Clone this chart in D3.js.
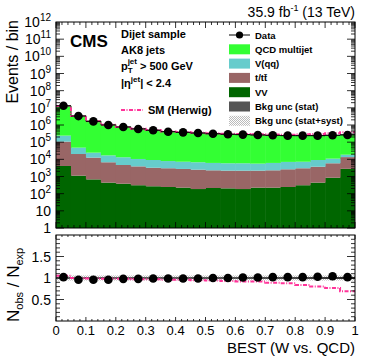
<!DOCTYPE html>
<html>
<head>
<meta charset="utf-8">
<script src="https://cdn.jsdelivr.net/npm/d3@7"></script>
<style>
  body { margin: 0; background: #fff; }
  svg text { font-family: "Liberation Sans", Arial, sans-serif; }
</style>
</head>
<body>
<div id="plot"></div>
<script>
// ---------------------------------------------------------------
// données (20 bins de 0.05)
// ---------------------------------------------------------------
var binEdges = [0,0.05,0.1,0.15,0.2,0.25,0.3,0.35,0.4,0.45,0.5,0.55,0.6,0.65,0.7,0.75,0.8,0.85,0.9,0.95,1.0];
var vv   = [4100,1120,680,440,380,310,270,245,225,186,214,204,186,224,224,245,310,440,850,2800];
var ttop = [103000,19300,11900,6300,4300,3580,2970,2780,2530,2320,2080,1990,2000,1970,2070,2390,2710,3280,5040,10700];
var vqq  = [133000,27500,11900,10200,8500,6600,5900,4900,4500,4250,3880,3700,3700,3430,3880,4450,4220,5400,5070,5100];
var qcd  = [12700000,3400000,1680000,1030000,770000,600000,495000,410000,370000,340000,305000,285000,270000,260000,245000,235000,233000,230000,240000,255000];
var data = [13200000,3310000,1620000,1000000,760000,590000,490000,407000,372000,339000,309000,288000,275000,263000,251000,240000,240000,240000,251000,263000];
var herwig = [12600000,3310000,1640000,1020000,776000,608000,505000,424000,388000,357000,329000,310000,299000,286000,282000,273000,286000,300000,326000,381000];
var ratioData   = [1.02,0.96,0.96,0.96,0.98,0.98,0.99,0.99,0.99,0.99,1.0,1.0,1.01,1.01,1.02,1.02,1.02,1.03,1.04,1.02];
var ratioHerwig = [1.05,1.0,0.99,0.98,0.98,0.97,0.97,0.96,0.96,0.95,0.94,0.93,0.92,0.92,0.89,0.88,0.84,0.80,0.77,0.69];
var uncStat = [0.004,0.004,0.005,0.005,0.005,0.006,0.006,0.006,0.007,0.007,0.008,0.008,0.009,0.01,0.011,0.012,0.014,0.017,0.02,0.025];
var uncTot  = [0.06,0.06,0.06,0.06,0.06,0.06,0.06,0.06,0.06,0.06,0.06,0.06,0.06,0.06,0.06,0.06,0.06,0.06,0.06,0.06];
var xTicks = [0,0.1,0.2,0.3,0.4,0.5,0.6,0.7,0.8,0.9,1];
var ratioTicks = [0.5,1,1.5];

var couleurs = {qcd:"#33ff33", vqq:"#66cccc", ttop:"#996666", vv:"#006600", herwig:"#ff3399"};

// ---------------------------------------------------------------
// svg & échelles
// ---------------------------------------------------------------
var largeurSvg = 374, hauteurSvg = 359;
var gauche = 56, droite = 355;
var hautTop = 22, basTop = 228, hautRatio = 235, basRatio = 321;

var svg = d3.select("#plot").append("svg")
    .attr("width", largeurSvg).attr("height", hauteurSvg);

var defs = svg.append("defs");
var pat = defs.append("pattern").attr("id","hachures")
    .attr("width",2).attr("height",2).attr("patternUnits","userSpaceOnUse");
pat.append("rect").attr("width",2).attr("height",2).attr("fill","#fff");
pat.append("rect").attr("width",1).attr("height",1).attr("fill","#bbb");
pat.append("rect").attr("x",1).attr("y",1).attr("width",1).attr("height",1).attr("fill","#bbb");
defs.append("clipPath").attr("id","clipTop").append("rect")
    .attr("x",gauche).attr("y",hautTop).attr("width",droite-gauche).attr("height",basTop-hautTop);
defs.append("clipPath").attr("id","clipRatio").append("rect")
    .attr("x",gauche).attr("y",hautRatio).attr("width",droite-gauche).attr("height",basRatio-hautRatio);

var x = d3.scaleLinear().domain([0,1]).range([gauche, droite]);
var y = d3.scaleLog().domain([1,1e12]).range([basTop, hautTop]);
var yr = d3.scaleLinear().domain([0,2]).range([basRatio, hautRatio]);

// piles cumulées
var bins = d3.range(20).map(function(i){
  return {i:i, x0:binEdges[i], x1:binEdges[i+1], vv:vv[i], ttop:ttop[i], vqq:vqq[i], qcd:qcd[i]};
});
var pile = d3.stack().keys(["vv","ttop","vqq","qcd"])(bins);

var gTop = svg.append("g").attr("clip-path","url(#clipTop)");
pile.forEach(function(serie){
  gTop.append("g").attr("fill", couleurs[serie.key])
    .selectAll("rect").data(serie).enter().append("rect")
      .attr("x", function(d){ return x(d.data.x0); })
      .attr("width", function(d){ return x(d.data.x1) - x(d.data.x0) + 0.5; })
      .attr("y", function(d){ return y(d[1]); })
      .attr("height", function(d){ return y(Math.max(d[0],1)) - y(d[1]); });
});

// bande incertitude (haut)
var total = pile[3];
gTop.selectAll("rect.unc").data(total).enter().append("rect")
    .attr("x", function(d){ return x(d.data.x0); })
    .attr("width", function(d){ return x(d.data.x1) - x(d.data.x0); })
    .attr("y", function(d,i){ return y(d[1]*(1+uncTot[i])); })
    .attr("height", function(d,i){ return y(d[1]*(1-uncTot[i])) - y(d[1]*(1+uncTot[i])); })
    .attr("fill","url(#hachures)").attr("opacity",0.6);

// ligne step helper
function ligneStep(vals, ech){
  var pts = [];
  vals.forEach(function(v,i){ pts.push([x(binEdges[i]), ech(v)]); pts.push([x(binEdges[i+1]), ech(v)]); });
  return d3.line()(pts);
}

// contour noir du total
gTop.append("path").attr("d", ligneStep(total.map(function(d){return d[1];}), y))
    .attr("fill","none").attr("stroke","#222").attr("stroke-width",0.8);

// Herwig
gTop.append("path").attr("d", ligneStep(herwig, y))
    .attr("fill","none").attr("stroke",couleurs.herwig).attr("stroke-width",2)
    .attr("stroke-dasharray","4,1.5,1,1.5");

// données
var centres = d3.range(20).map(function(i){ return (binEdges[i]+binEdges[i+1])/2; });
var gData = svg.append("g");
centres.forEach(function(c,i){
  gData.append("line").attr("x1",x(binEdges[i])).attr("x2",x(binEdges[i+1]))
    .attr("y1",y(data[i])).attr("y2",y(data[i])).attr("stroke","#000").attr("stroke-width",1);
  gData.append("circle").attr("cx",x(c)).attr("cy",y(data[i])).attr("r",4.3).attr("fill","#000");
});

// ---------------------------------------------------------------
// panneau ratio
// ---------------------------------------------------------------
var gR = svg.append("g").attr("clip-path","url(#clipRatio)");
gR.selectAll("rect.tot").data(uncTot).enter().append("rect")
    .attr("x", function(d,i){ return x(binEdges[i]); })
    .attr("width", function(d,i){ return x(binEdges[i+1]) - x(binEdges[i]); })
    .attr("y", function(d){ return yr(1+d); })
    .attr("height", function(d){ return yr(1-d) - yr(1+d); })
    .attr("fill","url(#hachures)");
gR.selectAll("rect.stat").data(uncStat).enter().append("rect")
    .attr("x", function(d,i){ return x(binEdges[i]); })
    .attr("width", function(d,i){ return x(binEdges[i+1]) - x(binEdges[i]); })
    .attr("y", function(d){ return yr(1+d); })
    .attr("height", function(d){ return yr(1-d) - yr(1+d); })
    .attr("fill","#555");
gR.append("line").attr("x1",gauche).attr("x2",droite).attr("y1",yr(1)).attr("y2",yr(1))
    .attr("stroke","#000").attr("stroke-width",1.2);
gR.append("path").attr("d", ligneStep(ratioHerwig, yr))
    .attr("fill","none").attr("stroke",couleurs.herwig).attr("stroke-width",2)
    .attr("stroke-dasharray","4,1.5,1,1.5");
centres.forEach(function(c,i){
  gR.append("circle").attr("cx",x(c)).attr("cy",yr(ratioData[i])).attr("r",4.3).attr("fill","#000");
});

// ---------------------------------------------------------------
// cadres et graduations (style ROOT)
// ---------------------------------------------------------------
function cadre(y0, y1){
  svg.append("rect").attr("x",gauche).attr("y",y0).attr("width",droite-gauche).attr("height",y1-y0)
    .attr("fill","none").attr("stroke","#000").attr("stroke-width",1);
}
cadre(hautTop, basTop);
cadre(hautRatio, basRatio);

var gTicks = svg.append("g").attr("stroke","#000").attr("stroke-width",0.8);
function tickX(v, long, y0, y1){
  gTicks.append("line").attr("x1",x(v)).attr("x2",x(v)).attr("y1",y1).attr("y2",y1-long);
  gTicks.append("line").attr("x1",x(v)).attr("x2",x(v)).attr("y1",y0).attr("y2",y0+long);
}
d3.range(0,51).forEach(function(k){
  var v = k/50, maj = (k%5===0);
  tickX(v, maj?6:3, hautTop, basTop);
  tickX(v, maj?4:2, hautRatio, basRatio);
});
function tickY(py, long){
  gTicks.append("line").attr("x1",gauche).attr("x2",gauche+long).attr("y1",py).attr("y2",py);
  gTicks.append("line").attr("x1",droite).attr("x2",droite-long).attr("y1",py).attr("y2",py);
}
d3.range(0,12).forEach(function(e){
  tickY(y(Math.pow(10,e)), 8);
  d3.range(2,10).forEach(function(m){ tickY(y(m*Math.pow(10,e)), 4); });
});
d3.range(1,20).forEach(function(k){
  var v = k/10;
  tickY(yr(v), (k%5===0)?8:4);
});

// étiquettes axe y log
var gLab = svg.append("g").attr("font-size",14).attr("fill","#000");
d3.range(0,13).forEach(function(e){
  var t = gLab.append("text").attr("x",51).attr("y",y(Math.pow(10,e))+5).attr("text-anchor","end");
  if (e===0) t.text("1");
  else if (e===1) t.text("10");
  else { t.text("10"); t.append("tspan").attr("font-size",10).attr("dy",-6).text(e); }
});
ratioTicks.forEach(function(v){
  gLab.append("text").attr("x",51).attr("y",yr(v)+5).attr("text-anchor","end").text(v);
});
xTicks.forEach(function(v){
  gLab.append("text").attr("x",x(v)).attr("y",335).attr("text-anchor","middle").attr("font-size",13).text(v);
});

// titres
svg.append("text").attr("x",droite).attr("y",353).attr("text-anchor","end").attr("font-size",15)
  .text("BEST (W vs. QCD)");
svg.append("text").attr("transform","translate(18,20) rotate(-90)").attr("text-anchor","end")
  .attr("font-size",16).text("Events / bin");
var tr = svg.append("text").attr("transform","translate(19,322) rotate(-90)").attr("font-size",17);
tr.append("tspan").text("N");
tr.append("tspan").attr("font-size",11).attr("dy",4).text("obs");
tr.append("tspan").attr("dy",-4).text(" / N");
tr.append("tspan").attr("font-size",11).attr("dy",4).text("exp");

var lumi = svg.append("text").attr("x",droite).attr("y",17).attr("text-anchor","end").attr("font-size",14);
lumi.append("tspan").text("35.9 fb");
lumi.append("tspan").attr("font-size",9).attr("dy",-6).text("-1");
lumi.append("tspan").attr("dy",6).text(" (13 TeV)");

svg.append("text").attr("x",70).attr("y",47).attr("font-size",17).attr("font-weight","bold").text("CMS");

var gInfo = svg.append("g").attr("font-size",11).attr("font-weight","bold");
gInfo.append("text").attr("x",121).attr("y",38).text("Dijet sample");
gInfo.append("text").attr("x",121).attr("y",54).text("AK8 jets");
var pt = gInfo.append("text").attr("x",121).attr("y",70);
pt.append("tspan").text("p");
pt.append("tspan").attr("font-size",8).attr("dy",3).attr("dx",0).text("T");
pt.append("tspan").attr("font-size",8).attr("dy",-9).attr("dx",-5).text("jet");
pt.append("tspan").attr("dy",6).text(" > 500 GeV");
var eta = gInfo.append("text").attr("x",121).attr("y",87);
eta.append("tspan").text("|\u03b7");
eta.append("tspan").attr("font-size",8).attr("dy",-5).text("jet");
eta.append("tspan").attr("dy",5).text("| < 2.4");
svg.append("line").attr("x1",121).attr("x2",143).attr("y1",110).attr("y2",110)
  .attr("stroke",couleurs.herwig).attr("stroke-width",2).attr("stroke-dasharray","4,1.5,1,1.5");
gInfo.append("text").attr("x",148).attr("y",114).text("SM (Herwig)");

// légende
var legende = [
  {nom:"Data", type:"data"},
  {nom:"QCD multijet", fill:couleurs.qcd},
  {nom:"V(qq)", fill:couleurs.vqq},
  {nom:"t/tt\u0304", fill:couleurs.ttop},
  {nom:"VV", fill:couleurs.vv},
  {nom:"Bkg unc (stat)", fill:"#555"},
  {nom:"Bkg unc (stat+syst)", fill:"url(#hachures)"}
];
var gLeg = svg.append("g");
legende.forEach(function(l,i){
  var ly = 35 + i*14.3;
  if (l.type==="data"){
    gLeg.append("line").attr("x1",229).attr("x2",250).attr("y1",ly).attr("y2",ly).attr("stroke","#000");
    gLeg.append("circle").attr("cx",239.5).attr("cy",ly).attr("r",3.6).attr("fill","#000");
  } else {
    gLeg.append("rect").attr("x",229).attr("y",ly-5).attr("width",21).attr("height",10).attr("fill",l.fill);
  }
  gLeg.append("text").attr("x",255).attr("y",ly+3.5).attr("font-size",9.5).attr("font-weight","bold").text(l.nom);
});
</script>
</body>
</html>
